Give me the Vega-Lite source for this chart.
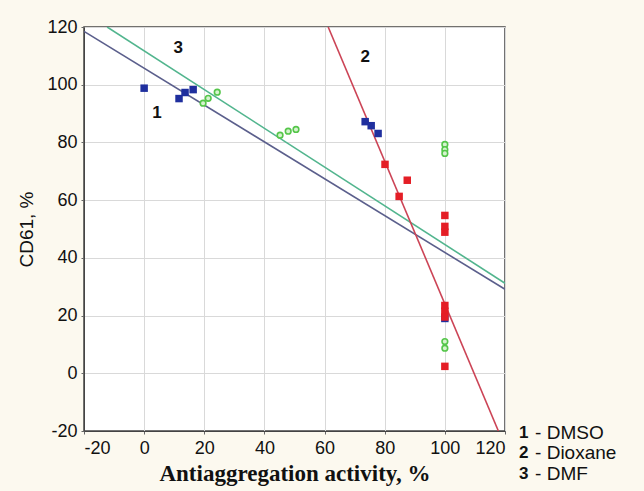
{
  "$schema": "https://vega.github.io/schema/vega-lite/v6.json",
  "autosize": {"type": "none"},
  "width": 421,
  "height": 404,
  "padding": {"left": 84, "top": 27, "right": 139, "bottom": 60},
  "background": "#fcf9ef",
  "config": {
    "view": {"fill": "#ffffff", "stroke": "#444444", "strokeWidth": 1.5},
    "axis": {"labelFont": "Liberation Sans", "labelFontSize": 18, "labelColor": "#111111", "gridColor": "#d9d9d9", "gridWidth": 1, "domainColor": "#444444", "tickColor": "#666666", "tickSize": 3, "labelExpr": "toString(datum.value)"}
  },
  "datasets": {
    "pts": [
      {"series": "DMSO", "x": 0, "y": 98.8},
      {"series": "DMSO", "x": 11.6, "y": 95.2},
      {"series": "DMSO", "x": 13.6, "y": 97.3},
      {"series": "DMSO", "x": 16.3, "y": 98.3},
      {"series": "DMSO", "x": 73.5, "y": 87.2},
      {"series": "DMSO", "x": 75.5, "y": 85.8},
      {"series": "DMSO", "x": 77.8, "y": 83.1},
      {"series": "DMSO", "x": 100, "y": 19},
      {"series": "Dioxane", "x": 80.1, "y": 72.4},
      {"series": "Dioxane", "x": 87.5, "y": 66.9},
      {"series": "Dioxane", "x": 84.8, "y": 61.3},
      {"series": "Dioxane", "x": 100, "y": 54.7},
      {"series": "Dioxane", "x": 100, "y": 50.9},
      {"series": "Dioxane", "x": 100, "y": 48.9},
      {"series": "Dioxane", "x": 100, "y": 23.5},
      {"series": "Dioxane", "x": 100, "y": 21.5},
      {"series": "Dioxane", "x": 100, "y": 19.5},
      {"series": "Dioxane", "x": 100, "y": 2.4}
    ],
    "dmf": [
      {"series": "DMF", "x": 19.6, "y": 93.6},
      {"series": "DMF", "x": 21.3, "y": 95.3},
      {"series": "DMF", "x": 24.3, "y": 97.4},
      {"series": "DMF", "x": 45.2, "y": 82.5},
      {"series": "DMF", "x": 47.9, "y": 83.9},
      {"series": "DMF", "x": 50.5, "y": 84.5},
      {"series": "DMF", "x": 100, "y": 79.3},
      {"series": "DMF", "x": 100, "y": 77.5},
      {"series": "DMF", "x": 100, "y": 76.2},
      {"series": "DMF", "x": 100, "y": 11},
      {"series": "DMF", "x": 100, "y": 8.7}
    ],
    "fits": [
      {"series": "DMSO", "x": -20, "y": 118.5},
      {"series": "DMSO", "x": 120, "y": 29.1},
      {"series": "DMF", "x": -12.3, "y": 120},
      {"series": "DMF", "x": 120, "y": 31.2},
      {"series": "Dioxane", "x": 61.2, "y": 120},
      {"series": "Dioxane", "x": 117.8, "y": -20}
    ],
    "labels": [
      {"label": "1", "x": 4.3, "y": 90.1},
      {"label": "2", "x": 73.5, "y": 109.5},
      {"label": "3", "x": 11.3, "y": 112.6}
    ],
    "legnum": [
      {"label": "1", "x": 126.2, "y": -20.8},
      {"label": "2", "x": 126.2, "y": -27.7},
      {"label": "3", "x": 126.2, "y": -35.0}
    ],
    "legtext": [
      {"label": "- DMSO", "x": 130.0, "y": -20.8},
      {"label": "- Dioxane", "x": 130.0, "y": -27.7},
      {"label": "- DMF", "x": 130.0, "y": -35.0}
    ]
  },
  "layer": [
    {
      "data": {"name": "fits"},
      "mark": {"type": "line", "strokeWidth": 1.6, "clip": true},
      "encoding": {
        "x": {"field": "x", "type": "quantitative", "scale": {"domain": [-20, 120], "nice": false},
              "axis": {"values": [-20, 0, 20, 40, 60, 80, 100, 120], "title": "Antiaggregation activity, %", "titleFont": "Liberation Serif", "titleFontSize": 23, "titleFontWeight": "bold", "titleColor": "#111111", "titlePadding": 5, "labelPadding": 5}},
        "y": {"field": "y", "type": "quantitative", "scale": {"domain": [-20, 120], "nice": false},
              "axis": {"values": [-20, 0, 20, 40, 60, 80, 100, 120], "title": "CD61, %", "titleFont": "Liberation Sans", "titleFontSize": 19, "titleFontWeight": "normal", "titleColor": "#111111", "titlePadding": 10, "labelPadding": 4}},
        "detail": {"field": "series"},
        "color": {"field": "series", "type": "nominal", "scale": {"domain": ["DMSO", "Dioxane", "DMF"], "range": ["#5b5f8c", "#cc4456", "#52b58e"]}, "legend": null}
      }
    },
    {
      "data": {"name": "pts"},
      "mark": {"type": "square", "size": 56, "opacity": 1, "filled": true},
      "encoding": {
        "x": {"field": "x", "type": "quantitative"},
        "y": {"field": "y", "type": "quantitative"},
        "fill": {"field": "series", "type": "nominal", "scale": {"domain": ["DMSO", "Dioxane", "DMF"], "range": ["#1f2f9e", "#e41e26", "#55c64a"]}, "legend": null}
      }
    },
    {
      "data": {"name": "dmf"},
      "mark": {"type": "point", "shape": "circle", "size": 32, "filled": false, "fill": "#d6f3cf", "stroke": "#55c64a", "strokeWidth": 1.6, "opacity": 1},
      "encoding": {
        "x": {"field": "x", "type": "quantitative"},
        "y": {"field": "y", "type": "quantitative"}
      }
    },
    {
      "data": {"name": "labels"},
      "mark": {"type": "text", "font": "Liberation Sans", "fontSize": 17, "fontWeight": "bold", "color": "#111111"},
      "encoding": {
        "x": {"field": "x", "type": "quantitative"},
        "y": {"field": "y", "type": "quantitative"},
        "text": {"field": "label"}
      }
    },
    {
      "data": {"name": "legnum"},
      "mark": {"type": "text", "font": "Liberation Sans", "fontSize": 17, "fontWeight": "bold", "color": "#111111", "clip": false},
      "encoding": {
        "x": {"field": "x", "type": "quantitative"},
        "y": {"field": "y", "type": "quantitative"},
        "text": {"field": "label"}
      }
    },
    {
      "data": {"name": "legtext"},
      "mark": {"type": "text", "font": "Liberation Sans", "fontSize": 19, "align": "left", "color": "#111111", "clip": false},
      "encoding": {
        "x": {"field": "x", "type": "quantitative"},
        "y": {"field": "y", "type": "quantitative"},
        "text": {"field": "label"}
      }
    }
  ]
}
